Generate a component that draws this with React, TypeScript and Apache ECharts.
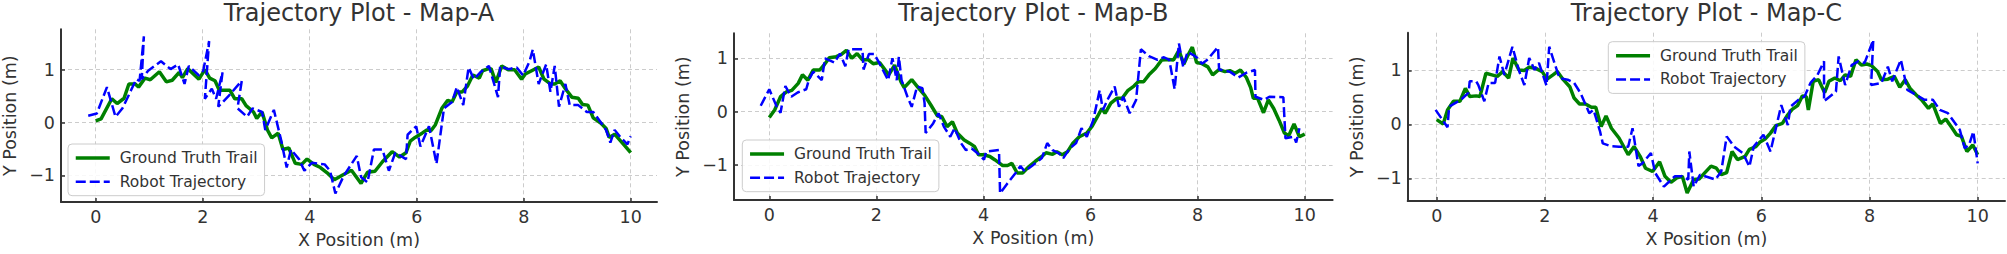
import React, { useEffect, useRef } from 'react';
import * as echarts from 'echarts';

const xTicks = [0, 2, 4, 6, 8, 10];
const yTicks = [-1, 0, 1];
const titles = ['Trajectory Plot - Map-A', 'Trajectory Plot - Map-B', 'Trajectory Plot - Map-C'];
const seriesNames = ['Ground Truth Trail', 'Robot Trajectory'];
const xAxisName = 'X Position (m)';
const yAxisName = 'Y Position (m)';

const groundTruthA: number[][] = [
  [0, 0.03], [0.1, 0.07], [0.3, 0.45], [0.4, 0.36], [0.53, 0.46], [0.62, 0.73], [0.74, 0.73], [0.8, 0.67],
  [0.92, 0.84], [1.02, 0.81], [1.19, 0.96], [1.32, 0.77], [1.43, 0.8], [1.56, 0.95], [1.62, 0.85], [1.72, 1.02],
  [1.93, 0.82], [2.04, 1.0], [2.13, 0.84], [2.23, 0.79], [2.31, 0.61], [2.51, 0.61], [2.6, 0.45], [2.73, 0.45],
  [2.81, 0.32], [2.95, 0.2], [3.01, 0.08], [3.11, 0.2], [3.21, -0.14], [3.29, -0.29], [3.41, -0.2], [3.5, -0.51],
  [3.61, -0.48], [3.73, -0.77], [3.85, -0.79], [3.95, -0.69], [4.08, -0.79], [4.2, -0.85], [4.35, -0.97],
  [4.46, -1.08], [4.6, -1.0], [4.78, -0.9], [4.96, -1.15], [5.08, -0.94], [5.22, -0.92], [5.36, -0.74],
  [5.54, -0.55], [5.68, -0.65], [5.8, -0.57], [5.88, -0.35], [5.97, -0.28], [6.1, -0.2], [6.19, -0.14],
  [6.27, -0.15], [6.35, -0.04], [6.47, 0.27], [6.58, 0.42], [6.66, 0.39], [6.75, 0.58], [6.85, 0.58],
  [6.95, 0.69], [7.05, 0.9], [7.17, 0.84], [7.23, 0.98], [7.32, 1.01], [7.39, 1.02], [7.48, 0.76], [7.59, 1.07],
  [7.71, 1.0], [7.83, 1.0], [7.96, 0.82], [8.03, 0.92], [8.15, 0.98], [8.28, 1.05], [8.38, 0.82], [8.5, 0.73],
  [8.58, 0.73], [8.68, 0.79], [8.78, 0.64], [8.9, 0.48], [9.02, 0.46], [9.1, 0.34], [9.2, 0.33], [9.3, 0.09],
  [9.44, -0.01], [9.54, -0.11], [9.6, -0.28], [9.7, -0.22], [9.9, -0.45], [10.0, -0.57],
];

const robotA: number[][] = [
  [-0.14, 0.13], [0.02, 0.17], [0.21, 0.67], [0.37, 0.11], [0.5, 0.27], [0.66, 0.61], [0.76, 0.82], [0.82, 0.79],
  [0.9, 1.63], [0.86, 0.82], [0.98, 0.98], [1.22, 1.16], [1.4, 1.01], [1.54, 1.1], [1.66, 0.73], [1.74, 1.07],
  [1.93, 0.89], [2.01, 0.98], [2.12, 1.54], [2.04, 0.45], [2.17, 0.64], [2.25, 0.45], [2.37, 0.95], [2.29, 0.3],
  [2.49, 0.51], [2.73, 0.79], [2.65, 0.27], [2.83, 0.11], [2.93, 0.27], [3.11, 0.2], [3.17, -0.14], [3.33, 0.24],
  [3.47, -0.35], [3.57, -0.85], [3.65, -0.51], [3.8, -0.69], [3.9, -0.91], [4.04, -0.76], [4.28, -0.79],
  [4.38, -0.91], [4.48, -1.34], [4.64, -1.0], [4.88, -0.63], [4.96, -1.03], [5.08, -1.13], [5.2, -0.51],
  [5.36, -0.51], [5.48, -0.91], [5.6, -0.57], [5.8, -0.69], [5.83, -0.23], [5.99, -0.07], [6.07, -0.45],
  [6.23, -0.07], [6.37, -0.78], [6.51, 0.27], [6.66, 0.39], [6.75, 0.67], [6.87, 0.33], [6.97, 1.04],
  [7.07, 0.82], [7.19, 0.95], [7.35, 1.07], [7.52, 0.48], [7.56, 1.07], [7.71, 1.01], [7.87, 1.04], [7.99, 0.89],
  [8.11, 1.16], [8.17, 1.38], [8.28, 0.73], [8.42, 1.1], [8.5, 0.58], [8.58, 1.07], [8.66, 0.3], [8.78, 0.73],
  [8.86, 0.33], [9.02, 0.33], [9.18, 0.2], [9.3, 0.2], [9.43, 0.02], [9.54, -0.14], [9.62, -0.38], [9.7, -0.14],
  [9.82, -0.29], [9.94, -0.41], [10.0, -0.26],
];

const groundTruthB: number[][] = [
  [0, -0.11], [0.1, 0.03], [0.21, 0.28], [0.32, 0.37], [0.42, 0.4], [0.54, 0.53], [0.62, 0.69], [0.72, 0.59],
  [0.82, 0.78], [0.94, 0.78], [1.02, 0.87], [1.12, 1.01], [1.25, 1.03], [1.34, 1.07], [1.44, 1.15], [1.54, 1.0],
  [1.64, 1.09], [1.74, 0.97], [1.84, 0.98], [1.94, 0.9], [2.06, 0.92], [2.12, 0.84], [2.23, 0.69], [2.34, 0.87],
  [2.46, 0.56], [2.52, 0.45], [2.66, 0.6], [2.78, 0.45], [2.9, 0.31], [3.02, 0.12], [3.14, -0.08], [3.22, -0.09],
  [3.32, -0.28], [3.42, -0.19], [3.51, -0.4], [3.64, -0.53], [3.74, -0.59], [3.83, -0.65], [3.91, -0.81],
  [4.01, -0.81], [4.12, -0.84], [4.21, -0.9], [4.36, -1.01], [4.45, -1.01], [4.53, -0.97], [4.63, -1.15],
  [4.73, -1.15], [4.85, -1.03], [4.97, -0.93], [5.09, -0.84], [5.17, -0.77], [5.29, -0.8], [5.37, -0.75],
  [5.47, -0.81], [5.57, -0.75], [5.67, -0.59], [5.79, -0.47], [5.93, -0.4], [6.03, -0.27], [6.13, -0.09],
  [6.21, 0.06], [6.27, -0.03], [6.38, 0.16], [6.49, 0.25], [6.59, 0.25], [6.7, 0.4], [6.81, 0.48], [6.89, 0.56],
  [6.99, 0.56], [7.09, 0.69], [7.21, 0.81], [7.33, 0.97], [7.45, 0.98], [7.55, 0.97], [7.65, 1.15], [7.74, 0.89],
  [7.82, 1.06], [7.9, 1.21], [7.98, 0.92], [8.08, 0.9], [8.19, 0.84], [8.28, 0.69], [8.4, 0.79], [8.51, 0.75],
  [8.6, 0.77], [8.7, 0.72], [8.8, 0.78], [8.91, 0.64], [8.99, 0.45], [9.04, 0.25], [9.12, 0.25], [9.23, -0.02],
  [9.32, 0.22], [9.42, 0.06], [9.52, -0.16], [9.62, -0.4], [9.7, -0.45], [9.8, -0.23], [9.9, -0.47], [10.0, -0.42],
];

const robotB: number[][] = [
  [-0.16, 0.11], [0, 0.42], [0.14, 0.09], [0.21, -0.02], [0.3, 0.48], [0.41, 0.28], [0.53, 0.36], [0.69, 0.42],
  [0.74, 0.6], [0.82, 0.75], [0.98, 0.59], [1.04, 1.0], [1.22, 0.92], [1.32, 1.09], [1.42, 0.85], [1.48, 1.17],
  [1.74, 1.17], [1.76, 0.79], [1.86, 1.08], [1.96, 1.08], [2.06, 0.9], [2.22, 0.59], [2.3, 1.0], [2.38, 0.59],
  [2.42, 1.03], [2.47, 0.59], [2.58, 0.28], [2.66, 0.09], [2.76, 0.47], [2.86, 0.44], [2.9, 0.16], [2.92, -0.4],
  [3.06, -0.22], [3.16, -0.03], [3.26, -0.28], [3.38, -0.47], [3.46, -0.31], [3.58, -0.59], [3.67, -0.72],
  [3.78, -0.69], [3.89, -0.78], [4.01, -0.9], [4.05, -0.75], [4.29, -0.72], [4.31, -1.53], [4.45, -1.34],
  [4.6, -1.15], [4.69, -1.02], [4.77, -1.12], [4.89, -1.03], [5.09, -0.87], [5.19, -0.59], [5.29, -0.72],
  [5.41, -0.78], [5.49, -0.87], [5.61, -0.69], [5.73, -0.59], [5.83, -0.31], [5.93, -0.47], [6.05, -0.16],
  [6.17, 0.4], [6.23, 0.03], [6.33, 0.25], [6.45, 0.47], [6.53, 0.09], [6.61, 0.28], [6.73, -0.03], [6.85, 0.22],
  [6.94, 1.17], [7.09, 1.04], [7.25, 0.97], [7.37, 1.02], [7.47, 0.97], [7.57, 0.42], [7.65, 1.28], [7.73, 0.84],
  [7.81, 1.12], [7.92, 1.06], [8.0, 1.0], [8.08, 0.9], [8.19, 0.98], [8.27, 1.08], [8.38, 1.21], [8.4, 0.79],
  [8.6, 0.75], [8.76, 0.64], [8.91, 0.73], [9.07, 0.78], [9.08, 0.28], [9.24, 0.22], [9.34, 0.28], [9.6, 0.27],
  [9.64, -0.5], [9.8, -0.47], [9.84, -0.58], [9.9, -0.31],
];

const groundTruthC: number[][] = [
  [0, 0.09], [0.12, 0.01], [0.2, 0.27], [0.31, 0.43], [0.43, 0.43], [0.53, 0.67], [0.61, 0.52], [0.73, 0.53],
  [0.8, 0.52], [0.91, 0.95], [1.02, 0.92], [1.12, 0.89], [1.22, 0.98], [1.33, 0.86], [1.41, 1.23], [1.52, 1.01],
  [1.62, 1.0], [1.71, 1.06], [1.83, 1.04], [1.95, 0.98], [2.04, 0.84], [2.15, 0.92], [2.23, 0.98], [2.34, 0.83],
  [2.46, 0.7], [2.54, 0.49], [2.64, 0.38], [2.75, 0.38], [2.86, 0.32], [2.94, 0.32], [3.04, -0.04], [3.13, 0.16],
  [3.23, -0.07], [3.37, -0.25], [3.54, -0.56], [3.65, -0.41], [3.76, -0.59], [3.86, -0.81], [3.99, -0.87],
  [4.12, -0.69], [4.22, -0.96], [4.33, -1.07], [4.44, -0.99], [4.54, -0.96], [4.63, -1.27], [4.75, -1.02],
  [4.85, -1.01], [4.95, -0.9], [5.07, -0.77], [5.17, -0.81], [5.26, -0.93], [5.36, -0.89], [5.46, -0.5],
  [5.56, -0.65], [5.7, -0.59], [5.78, -0.46], [5.9, -0.41], [5.97, -0.33], [6.07, -0.27], [6.17, -0.16],
  [6.27, -0.02], [6.39, 0.02], [6.49, 0.18], [6.57, 0.28], [6.67, 0.35], [6.76, 0.53], [6.83, 0.52], [6.87, 0.27],
  [6.96, 0.8], [7.06, 0.83], [7.17, 0.59], [7.25, 0.8], [7.36, 0.86], [7.46, 0.81], [7.55, 0.92], [7.65, 0.89],
  [7.75, 1.2], [7.85, 1.1], [7.95, 1.12], [8.04, 1.09], [8.15, 0.98], [8.22, 0.83], [8.34, 0.84], [8.46, 0.89],
  [8.56, 0.69], [8.66, 0.83], [8.75, 0.67], [8.86, 0.55], [8.96, 0.46], [9.09, 0.3], [9.17, 0.38], [9.31, 0.02],
  [9.41, 0.1], [9.53, -0.07], [9.61, -0.19], [9.7, -0.22], [9.8, -0.5], [9.91, -0.38], [10.0, -0.56],
];

const robotC: number[][] = [
  [-0.02, 0.27], [0.2, -0.05], [0.23, 0.33], [0.45, 0.46], [0.59, 0.59], [0.61, 0.8], [0.73, 0.8], [0.77, 0.73],
  [0.88, 0.43], [0.96, 0.77], [1.08, 0.77], [1.16, 1.26], [1.25, 0.92], [1.4, 1.44], [1.52, 1.0], [1.62, 0.73],
  [1.71, 1.23], [1.81, 1.01], [1.89, 1.14], [2.03, 0.72], [2.08, 1.44], [2.19, 1.1], [2.27, 0.86], [2.42, 0.83],
  [2.54, 0.77], [2.66, 0.58], [2.82, 0.21], [2.9, 0.27], [3.02, -0.13], [3.07, -0.35], [3.21, -0.4],
  [3.37, -0.41], [3.54, -0.41], [3.62, -0.07], [3.73, -0.77], [3.8, -0.72], [3.96, -0.53], [4.04, -0.9],
  [4.2, -1.15], [4.4, -0.96], [4.54, -0.96], [4.65, -1.02], [4.67, -0.5], [4.75, -1.15], [4.87, -0.93],
  [5.15, -1.02], [5.26, -0.87], [5.36, -0.22], [5.5, -0.41], [5.66, -0.53], [5.78, -0.78], [5.86, -0.41],
  [6.04, -0.19], [6.17, -0.5], [6.37, 0.36], [6.49, -0.01], [6.54, 0.33], [6.69, 0.46], [6.8, 0.52], [6.91, 0.77],
  [7.04, 0.92], [7.16, 1.17], [7.16, 0.43], [7.38, 0.61], [7.43, 1.26], [7.55, 0.73], [7.67, 1.1], [7.79, 1.17],
  [7.91, 1.14], [8.07, 1.57], [8.03, 0.73], [8.22, 0.77], [8.34, 1.07], [8.42, 0.8], [8.58, 1.2], [8.7, 0.64],
  [8.86, 0.55], [9.01, 0.46], [9.17, 0.46], [9.3, 0.27], [9.45, 0.21], [9.57, 0.04], [9.67, -0.1], [9.76, -0.44],
  [9.84, -0.38], [9.92, -0.13], [10.0, -0.72],
];

const FONT = 'DejaVu Sans';
const TEXT = '#333333';

const panels = [
  { grid: { left: 61, top: 29.3, width: 596, height: 175.4 }, xr: [-0.649, 10.492], yr: [-1.503, 1.763],
    legend: { left: 68, top: 144 }, gt: groundTruthA, rb: robotA },
  { grid: { left: 734, top: 33.3, width: 598.6, height: 166.7 }, xr: [-0.659, 10.52], yr: [-1.656, 1.469],
    legend: { left: 742.3, top: 140 }, gt: groundTruthB, rb: robotB },
  { grid: { left: 1407.7, top: 32.7, width: 597.3, height: 168.3 }, xr: [-0.536, 10.505], yr: [-1.417, 1.70],
    legend: { left: 1608.3, top: 41.7 }, gt: groundTruthC, rb: robotC },
];

const fmt = (v: number) => (v < 0 ? '\u2212' + Math.abs(v) : String(v));

function buildOption() {
  const grid: any[] = [];
  const xAxis: any[] = [];
  const yAxis: any[] = [];
  const series: any[] = [];
  const legend: any[] = [];
  const graphic: any[] = [];
  panels.forEach((p, i) => {
    grid.push({ ...p.grid, containLabel: false });
    const common = {
      gridIndex: i,
      type: 'value',
      nameLocation: 'middle',
      nameTextStyle: { fontFamily: FONT, fontSize: 17.5, color: TEXT },
      axisLine: { show: true, onZero: false, lineStyle: { color: '#333', width: 2 } },
      axisTick: { show: true, inside: true, length: 4, lineStyle: { color: '#333', width: 1.5 } },
      splitLine: { show: true, lineStyle: { color: '#cccccc', width: 1, type: [4, 3] } },
    };
    xAxis.push({
      ...common,
      min: p.xr[0], max: p.xr[1],
      name: xAxisName, nameGap: 23,
      axisTick: { ...common.axisTick, customValues: xTicks },
      axisLabel: { customValues: xTicks, formatter: fmt, fontFamily: FONT, fontSize: 17.5, color: TEXT, margin: 6 },
    });
    yAxis.push({
      ...common,
      min: p.yr[0], max: p.yr[1],
      name: yAxisName, nameGap: 42,
      axisTick: { ...common.axisTick, customValues: yTicks },
      axisLabel: { customValues: yTicks, formatter: fmt, fontFamily: FONT, fontSize: 17.5, color: TEXT, margin: 6 },
    });
    series.push({
      type: 'line', name: seriesNames[0], xAxisIndex: i, yAxisIndex: i, data: p.gt,
      showSymbol: false, symbol: 'none', lineStyle: { color: '#008000', width: 3.5 }, itemStyle: { color: '#008000' },
      z: 3,
    });
    series.push({
      type: 'line', name: seriesNames[1], xAxisIndex: i, yAxisIndex: i, data: p.rb,
      showSymbol: false, symbol: 'none', lineStyle: { color: '#0000ff', width: 2.5, type: [10, 4] }, itemStyle: { color: '#0000ff' },
      z: 4,
    });
    legend.push({
      left: p.legend.left, top: p.legend.top, orient: 'vertical',
      data: seriesNames,
      itemWidth: 34, itemHeight: 16, itemGap: 7.7,
      padding: [6, 7, 6, 6],
      itemStyle: { opacity: 0 },
      lineStyle: { width: 'inherit' },
      backgroundColor: 'rgba(255,255,255,0.85)', borderColor: '#cccccc', borderWidth: 1, borderRadius: 4,
      textStyle: { fontFamily: FONT, fontSize: 15.5, color: TEXT, padding: [0, 0, 0, 5] },
      selectedMode: false,
    });
    graphic.push({
      type: 'text',
      x: p.grid.left + p.grid.width / 2,
      y: 13,
      style: {
        text: titles[i], fontFamily: FONT, fontSize: 24, fill: TEXT,
        textAlign: 'center', textVerticalAlign: 'middle', align: 'center', verticalAlign: 'middle',
      },
    });
  });
  return { animation: false, backgroundColor: '#ffffff', grid, xAxis, yAxis, series, legend, graphic };
}

export default function App() {
  const ref = useRef<HTMLDivElement>(null);
  useEffect(() => {
    if (!ref.current) return;
    const chart = echarts.init(ref.current, undefined, { renderer: 'svg' });
    chart.setOption(buildOption() as any);
    return () => chart.dispose();
  }, []);
  return <div ref={ref} style={{ position: 'absolute', left: 0, top: 0, width: 2007, height: 254 }} />;
}
